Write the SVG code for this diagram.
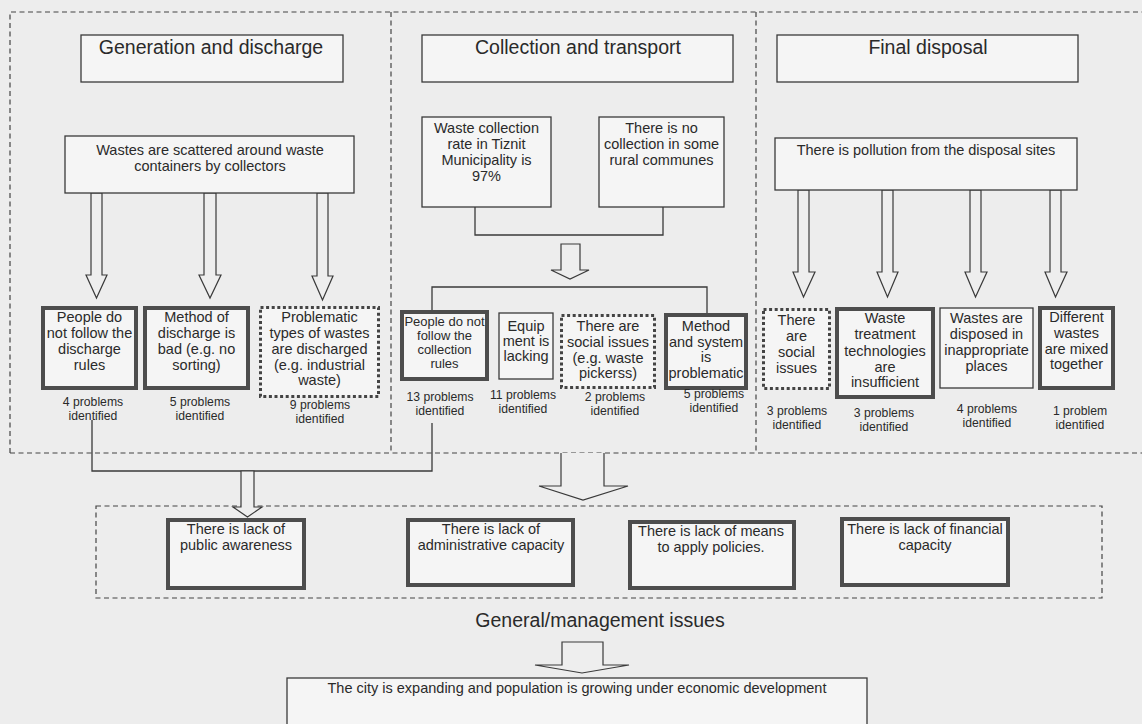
<svg xmlns="http://www.w3.org/2000/svg" width="1142" height="724" viewBox="0 0 1142 724">
<style>
  text { font-family: "Liberation Sans", Arial, sans-serif; fill: #2a2a2a; text-anchor: middle; }
  .t { font-size: 14.5px; }
  .s { font-size: 13px; }
  .l { font-size: 12.2px; }
  .h { font-size: 19.5px; }
  .panel { fill: none; stroke: #444; stroke-width: 1.2; stroke-dasharray: 5 3.5; }
  .box { fill: #f5f5f5; stroke: #3a3a3a; stroke-width: 1.3; }
  .thick { fill: #f5f5f5; stroke: #4d4d4d; stroke-width: 4; }
  .dot { fill: #f5f5f5; stroke: #444; stroke-width: 3; stroke-dasharray: 3 2.6; }
  .arrow { fill: #eeeeee; stroke: #3a3a3a; stroke-width: 1.2; stroke-linejoin: miter; }
  .line { fill: none; stroke: #3a3a3a; stroke-width: 1.3; }
</style>
<rect x="0" y="0" width="1142" height="724" fill="#ededed"/>

<g id="panels">
  <path class="panel" d="M10,453 V12 H1142"/>
  <path class="panel" d="M10,453 H1142"/>
  <path class="panel" d="M391,12 V453"/>
  <path class="panel" d="M756,12 V453"/>
  <rect class="panel" x="96" y="506" width="1006" height="92"/>
</g>

<g id="connectors">
  <path class="arrow" d="M91,193 V275 H86 L96.5,298 L107,275 H102 V193 Z"/>
  <path class="arrow" d="M204,193 V275 H199 L210,298 L221,275 H216 V193 Z"/>
  <path class="arrow" d="M317,193 V276 H312 L322.5,300 L333,276 H328 V193 Z"/>
  <path class="arrow" d="M798,190 V272 H793 L803.5,297 L815,272 H809 V190 Z"/>
  <path class="arrow" d="M882,190 V272 H877 L887.5,297 L898,272 H893 V190 Z"/>
  <path class="arrow" d="M970,190 V272 H965 L975.5,297 L987,272 H981 V190 Z"/>
  <path class="arrow" d="M1050,190 V272 H1045 L1055.5,297 L1067,272 H1061 V190 Z"/>
  <path class="line" d="M475,207 V235 H663 V207"/>
  <path class="arrow" d="M561,244 V270 H551 L570,279 L589,270 H580 V244 Z"/>
  <path class="line" d="M432,310 V287 H707 V313"/>
  <path class="line" d="M92,420 V471 H432 V423"/>
  <path class="arrow" d="M241,471 V507 H233 L247.5,517 L262,507 H254 V471 Z"/>
  <path class="arrow" d="M561,453 V486 H539 L583,500 L628,486 H604 V453"/>
  <path class="arrow" d="M562,665 V642 H603 V665 H629 L582,673 L535,665 Z"/>
</g>

<g id="title-generation">
  <rect class="box" x="81" y="35" width="262" height="47"/>
  <text class="h" x="211" y="54">Generation and discharge</text>
</g>
<g id="title-collection">
  <rect class="box" x="422" y="35" width="311" height="47"/>
  <text class="h" x="578" y="54">Collection and transport</text>
</g>
<g id="title-disposal">
  <rect class="box" x="777" y="35" width="301" height="47"/>
  <text class="h" x="928" y="54">Final disposal</text>
</g>

<g id="wastes-scattered">
  <rect class="box" x="65" y="136" width="289" height="57"/>
  <text class="t" x="210" y="155">Wastes are scattered around waste</text>
  <text class="t" x="210" y="171">containers by collectors</text>
</g>

<g id="gen-people">
  <rect class="thick" x="43" y="308" width="93" height="80"/>
  <text class="t" x="89.5" y="322">People do</text>
  <text class="t" x="89.5" y="338">not follow the</text>
  <text class="t" x="89.5" y="354">discharge</text>
  <text class="t" x="89.5" y="370">rules</text>
  <text class="l" x="93" y="406">4 problems</text>
  <text class="l" x="93" y="419.5">identified</text>
</g>
<g id="gen-method">
  <rect class="thick" x="145" y="308" width="103" height="80"/>
  <text class="t" x="196.5" y="322">Method of</text>
  <text class="t" x="196.5" y="338">discharge is</text>
  <text class="t" x="196.5" y="354">bad (e.g. no</text>
  <text class="t" x="196.5" y="370">sorting)</text>
  <text class="l" x="200" y="406">5 problems</text>
  <text class="l" x="200" y="419.5">identified</text>
</g>
<g id="gen-types">
  <rect class="dot" x="260.5" y="307.5" width="118" height="89"/>
  <text class="t" x="319.5" y="322">Problematic</text>
  <text class="t" x="319.5" y="338">types of wastes</text>
  <text class="t" x="319.5" y="354">are discharged</text>
  <text class="t" x="319.5" y="370">(e.g. industrial</text>
  <text class="t" x="319.5" y="385">waste)</text>
  <text class="l" x="320" y="409">9 problems</text>
  <text class="l" x="320" y="422.5">identified</text>
</g>

<g id="col-rate">
  <rect class="box" x="422" y="117" width="129" height="90"/>
  <text class="t" x="486.5" y="133">Waste collection</text>
  <text class="t" x="486.5" y="149">rate in Tiznit</text>
  <text class="t" x="486.5" y="165">Municipality is</text>
  <text class="t" x="486.5" y="181">97%</text>
</g>
<g id="col-rural">
  <rect class="box" x="599" y="117" width="125" height="90"/>
  <text class="t" x="661.5" y="133">There is no</text>
  <text class="t" x="661.5" y="149">collection in some</text>
  <text class="t" x="661.5" y="165">rural communes</text>
</g>

<g id="col-people">
  <rect class="thick" x="402" y="312" width="85" height="67"/>
  <text class="s" x="444.5" y="326">People do not</text>
  <text class="s" x="444.5" y="340">follow the</text>
  <text class="s" x="444.5" y="354">collection</text>
  <text class="s" x="444.5" y="368">rules</text>
  <text class="l" x="440" y="401">13 problems</text>
  <text class="l" x="440" y="414.5">identified</text>
</g>
<g id="col-equipment">
  <rect class="box" x="499" y="313" width="54" height="66"/>
  <text class="t" x="526" y="331">Equip</text>
  <text class="t" x="526" y="346">ment is</text>
  <text class="t" x="526" y="361">lacking</text>
  <text class="l" x="523" y="399">11 problems</text>
  <text class="l" x="523" y="412.5">identified</text>
</g>
<g id="col-social">
  <rect class="dot" x="561.5" y="315.5" width="93" height="72"/>
  <text class="t" x="608" y="331">There are</text>
  <text class="t" x="608" y="347">social issues</text>
  <text class="t" x="608" y="363">(e.g. waste</text>
  <text class="t" x="608" y="378">pickerss)</text>
  <text class="l" x="615" y="401">2 problems</text>
  <text class="l" x="615" y="414.5">identified</text>
</g>
<g id="col-method">
  <rect class="thick" x="666" y="315" width="80" height="73"/>
  <text class="t" x="706" y="331">Method</text>
  <text class="t" x="706" y="347">and system</text>
  <text class="t" x="706" y="362">is</text>
  <text class="t" x="706" y="378">problematic</text>
  <text class="l" x="714" y="398">5 problems</text>
  <text class="l" x="714" y="411.5">identified</text>
</g>

<g id="disp-pollution">
  <rect class="box" x="775" y="138" width="302" height="52"/>
  <text class="t" x="926" y="155">There is pollution from the disposal sites</text>
</g>
<g id="disp-social">
  <rect class="dot" x="763.5" y="309.5" width="66" height="79"/>
  <text class="t" x="796.5" y="325">There</text>
  <text class="t" x="796.5" y="341">are</text>
  <text class="t" x="796.5" y="357">social</text>
  <text class="t" x="796.5" y="373">issues</text>
  <text class="l" x="797" y="415">3 problems</text>
  <text class="l" x="797" y="428.5">identified</text>
</g>
<g id="disp-tech">
  <rect class="thick" x="837" y="309" width="96" height="88"/>
  <text class="t" x="885" y="323">Waste</text>
  <text class="t" x="885" y="339">treatment</text>
  <text class="t" x="885" y="356">technologies</text>
  <text class="t" x="885" y="372">are</text>
  <text class="t" x="885" y="387">insufficient</text>
  <text class="l" x="884" y="417">3 problems</text>
  <text class="l" x="884" y="430.5">identified</text>
</g>
<g id="disp-inappropriate">
  <rect class="box" x="940" y="308" width="93" height="80"/>
  <text class="t" x="986.5" y="323">Wastes are</text>
  <text class="t" x="986.5" y="339">disposed in</text>
  <text class="t" x="986.5" y="355">inappropriate</text>
  <text class="t" x="986.5" y="371">places</text>
  <text class="l" x="987" y="413">4 problems</text>
  <text class="l" x="987" y="426.5">identified</text>
</g>
<g id="disp-mixed">
  <rect class="thick" x="1040" y="308" width="73" height="80"/>
  <text class="t" x="1076.5" y="322">Different</text>
  <text class="t" x="1076.5" y="338">wastes</text>
  <text class="t" x="1076.5" y="354">are mixed</text>
  <text class="t" x="1076.5" y="369">together</text>
  <text class="l" x="1080" y="415">1 problem</text>
  <text class="l" x="1080" y="428.5">identified</text>
</g>

<g id="mgmt-public">
  <rect class="thick" x="168" y="520" width="136" height="68"/>
  <text class="t" x="236" y="534">There is lack of</text>
  <text class="t" x="236" y="550">public awareness</text>
</g>
<g id="mgmt-admin">
  <rect class="thick" x="408" y="520" width="165" height="65"/>
  <text class="t" x="491" y="534">There is lack of</text>
  <text class="t" x="491" y="550">administrative capacity</text>
</g>
<g id="mgmt-means">
  <rect class="thick" x="630" y="522" width="164" height="66"/>
  <text class="t" x="711" y="536">There is lack of means</text>
  <text class="t" x="711" y="552">to apply policies.</text>
</g>
<g id="mgmt-financial">
  <rect class="thick" x="842" y="519" width="166" height="66"/>
  <text class="t" x="925" y="534">There is lack of financial</text>
  <text class="t" x="925" y="550">capacity</text>
</g>

<g id="general-label">
  <text class="h" x="600" y="627">General/management issues</text>
</g>

<g id="city">
  <rect class="box" x="287" y="678" width="580" height="60"/>
  <text class="t" x="577" y="693">The city is expanding and population is growing under economic development</text>
</g>
</svg>
